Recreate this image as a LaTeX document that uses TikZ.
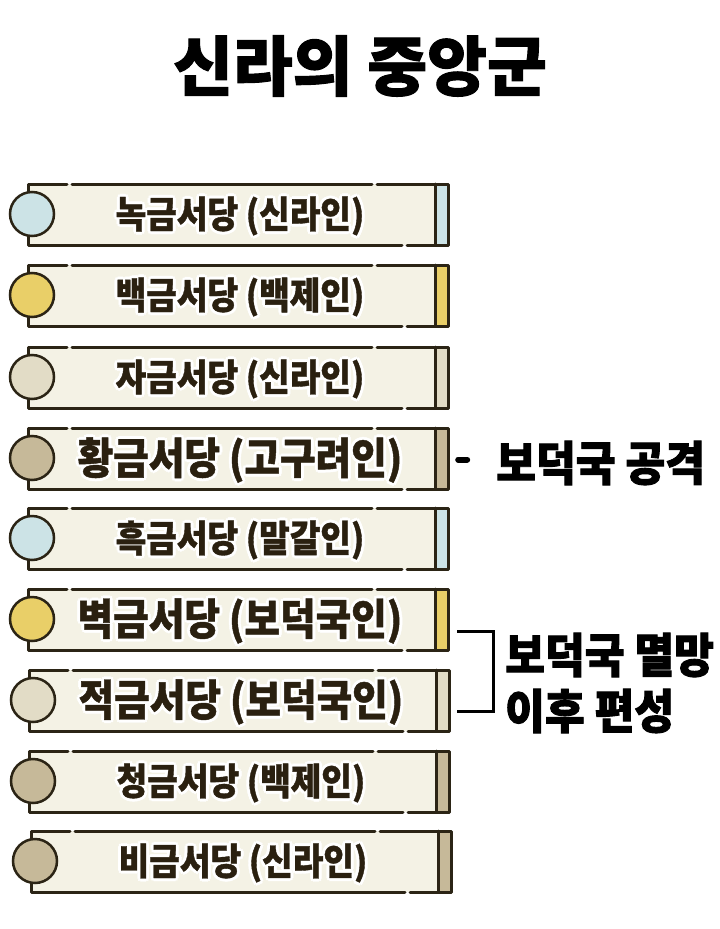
\documentclass[tikz,border=0pt]{standalone}
\usepackage{fontspec}
\newfontfamily\kr{Noto Sans CJK KR}[FakeStretch=0.9, FakeBold=1]
\newfontfamily\krh{Noto Sans CJK KR}[FakeStretch=0.92, FakeBold=2]
\newfontfamily\krt{Noto Sans CJK KR}[FakeBold=1.5]
\usetikzlibrary{calc}
\definecolor{ink}{HTML}{2B2415}
\definecolor{barfill}{HTML}{F4F2E5}
\definecolor{cblue}{HTML}{CCE3E6}
\definecolor{cyellow}{HTML}{E9CF68}
\definecolor{cbeige}{HTML}{E2DCC6}
\definecolor{ctan}{HTML}{C6B999}
\definecolor{txtc}{HTML}{2A2010}
\tikzset{
  inkline/.style={draw=ink, line width=3pt, line cap=round, line join=round},
  barbox/.style={rectangle, fill=barfill, inner sep=0, minimum width=420pt, minimum height=61pt},
  dot/.style={circle, draw=ink, line width=2.5pt, minimum size=44pt, inner sep=0},
  lbl/.style={text=black, anchor=west, inner sep=0},
}
\newcommand{\halo}[4]{%
  \foreach \a in {0,45,...,315}{\node[font=#3,text=white,inner sep=0] at ($(#2)+(\a:3pt)$) {#4};}
  \node[font=#3,text=txtc,inner sep=0] (#1) at (#2) {#4};}
\newcommand{\rowbar}[6]{%
  \node[barbox] (#1) at (#2+210,#3+30.5) {};
  \fill[#4] (#2+407,#3) rectangle (#2+420,#3+61);
  \draw[inkline] (#2+407,#3) -- (#2+407,#3+61);
  \draw[inkline] (#2+39,#3) -- (#2,#3) -- (#2,#3+61) -- (#2+374,#3+61);
  \draw[inkline] (#2+379,#3+61) -- (#2+420,#3+61) -- (#2+420,#3) -- (#2+349,#3);
  \draw[inkline] (#2+344,#3) -- (#2+44,#3);
  \node[dot, fill=#4] (#1c) at (#2+4,#3+30) {};
  \halo{#1t}{#2+212,#3+32}{\kr\bfseries\fontsize{#6}{#6}\selectfont}{#5}%
}
\begin{document}
\begin{tikzpicture}[x=1pt,y=-1pt]
\useasboundingbox[fill=white] (0,0) rectangle (720,929);
\node[font=\krt\bfseries\fontsize{65}{65}\selectfont, text=black] (title) at (360,66) {신라의 중앙군};
\rowbar{b1}{28}{184}{cblue}{녹금서당 (신라인)}{37}
\rowbar{b2}{28}{265}{cyellow}{백금서당 (백제인)}{37}
\rowbar{b3}{28}{347}{cbeige}{자금서당 (신라인)}{37}
\rowbar{b4}{28}{428}{ctan}{황금서당 (고구려인)}{43}
\rowbar{b5}{28}{508}{cblue}{흑금서당 (말갈인)}{37}
\rowbar{b6}{28}{589}{cyellow}{벽금서당 (보덕국인)}{43}
\rowbar{b7}{29}{670}{cbeige}{적금서당 (보덕국인)}{43}
\rowbar{b8}{29}{751}{ctan}{청금서당 (백제인)}{37}
\rowbar{b9}{31}{831}{ctan}{비금서당 (신라인)}{37}
% attack label
\node[lbl, font=\krh\bfseries\fontsize{47}{47}\selectfont] (atk) at (496,463) {보덕국 공격};
\draw[draw=black, line width=6pt, line cap=round] ($(b4.east)+(10,1)$) -- ($(b4.east)+(19,1)$);
% bracket
\coordinate (brA) at ($(b6.east)+(9,11.5)$);
\coordinate (brB) at ($(b7.east)+(8,10.5)$);
\draw[draw=black, line width=3pt, line join=miter] (brA) -- ++(36,0) |- (brB);
\node[lbl, font=\krh\bfseries\fontsize{47}{56}\selectfont, align=left] (after) at (505,683) {보덕국 멸망\\이후 편성};
\end{tikzpicture}
\end{document}
